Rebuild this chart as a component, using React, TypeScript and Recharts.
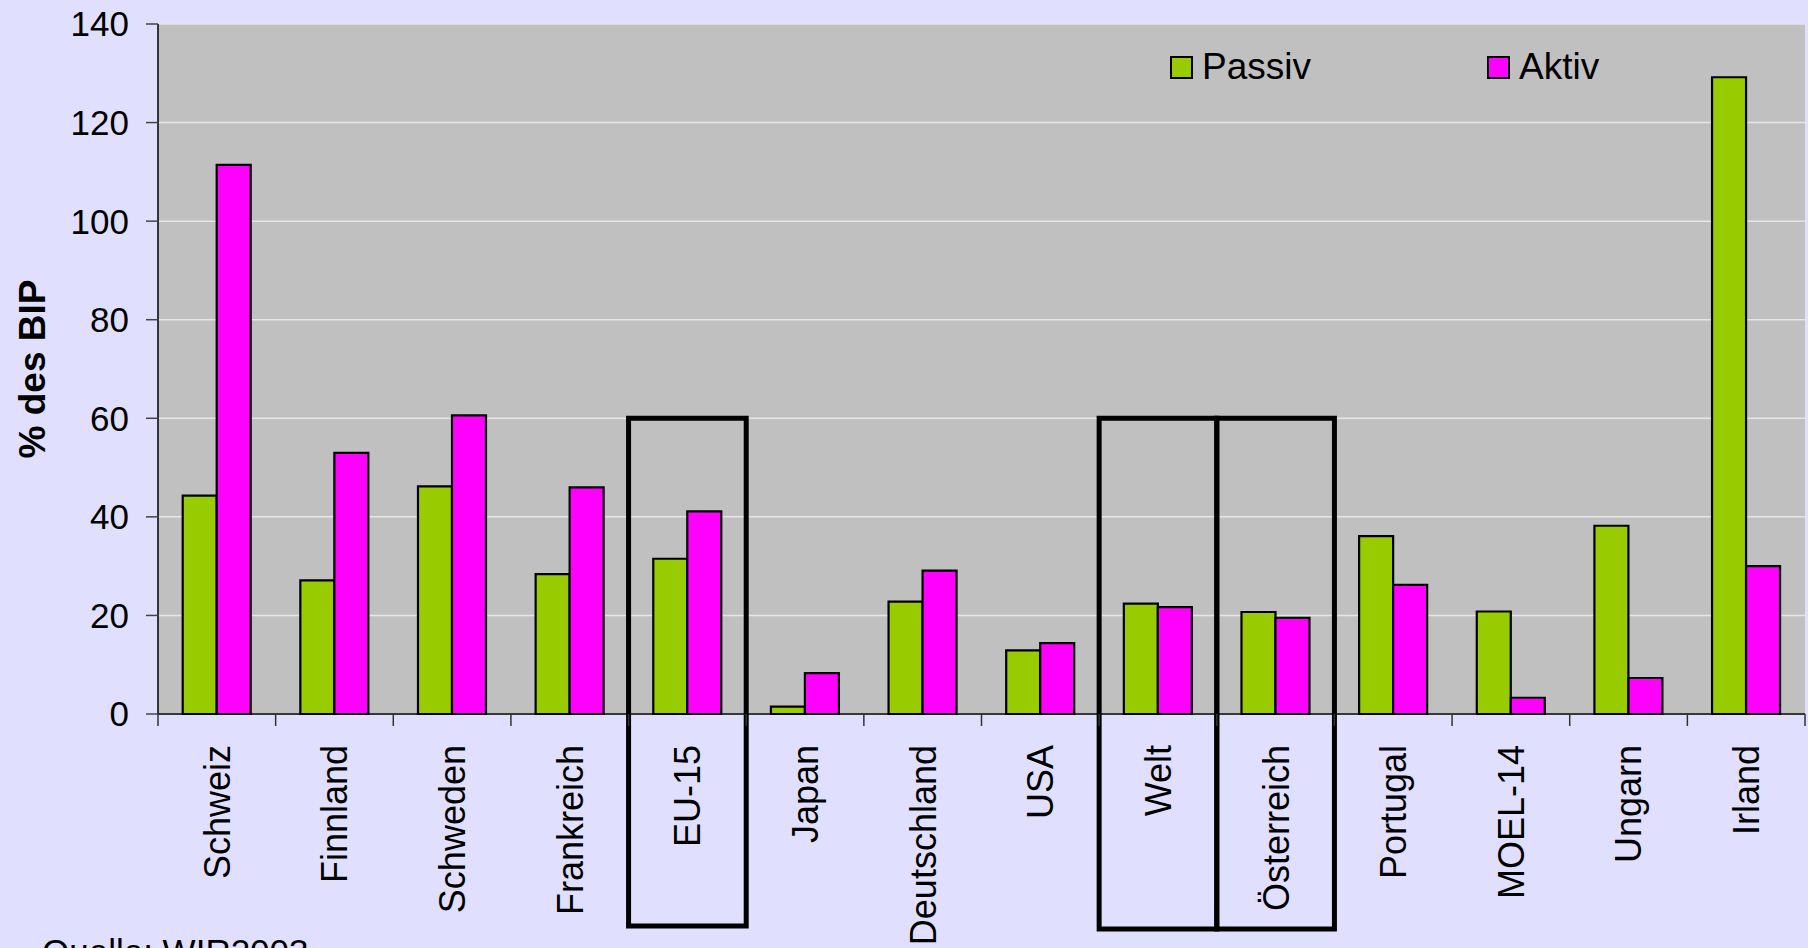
import {
  BarChart,
  Bar,
  XAxis,
  YAxis,
  CartesianGrid,
  Legend,
  ReferenceArea,
} from "recharts";

// Direktinvestitionsbestände in % des BIP (Quelle: WIR 2003)
const countries = [
  "Schweiz",
  "Finnland",
  "Schweden",
  "Frankreich",
  "EU-15",
  "Japan",
  "Deutschland",
  "USA",
  "Welt",
  "Österreich",
  "Portugal",
  "MOEL-14",
  "Ungarn",
  "Irland",
];
const passiv = [44.3, 27.1, 46.2, 28.4, 31.5, 1.5, 22.8, 12.9, 22.4, 20.7, 36.1, 20.8, 38.2, 129.2];
const aktiv = [111.4, 53.0, 60.6, 46.0, 41.1, 8.3, 29.1, 14.4, 21.7, 19.5, 26.2, 3.3, 7.3, 30.0];
const yTicks = [0, 20, 40, 60, 80, 100, 120, 140];
const legendOrder = ["Passiv", "Aktiv"];

// hervorgehobene Länder (schwarzer Rahmen)
const highlighted = ["EU-15", "Welt", "Österreich"];
const boxTop = 60;
const boxBottom = [-43, -43.6, -43.6];

const data = countries.map((name, i) => ({
  name,
  passiv: passiv[i],
  aktiv: aktiv[i],
}));

const WIDTH = 1808;
const HEIGHT = 948;
const MARGIN = { top: 24, right: 3, left: 0, bottom: 0 };
const Y_AXIS_W = 158;
const X_AXIS_H = 234;
const BAND = (WIDTH - MARGIN.left - MARGIN.right - Y_AXIS_W) / countries.length;
const FONT = "'Liberation Sans', Arial, sans-serif";

const CategoryTick = ({ x, y, payload, index }: any) => {
  const axisY = y - 31;
  const left = x - BAND / 2;
  return (
    <g>
      <line x1={left} x2={left} y1={axisY} y2={axisY + 12} stroke="#333" strokeWidth={1.5} />
      {index === countries.length - 1 && (
        <line x1={x + BAND / 2} x2={x + BAND / 2} y1={axisY} y2={axisY + 12} stroke="#333" strokeWidth={1.5} />
      )}
      <text
        x={x}
        y={y}
        dy="0.36em"
        textAnchor="end"
        transform={`rotate(-90, ${x}, ${y})`}
        fontSize={36}
        fontFamily={FONT}
        fill="#000"
      >
        {payload.value}
      </text>
    </g>
  );
};

const renderLegend = (props: any) => {
  const raw = props.payload ?? [];
  const items = legendOrder
    .map((v) => raw.find((it: any) => it.value === v))
    .filter(Boolean);
  return (
    <div style={{ position: "relative", height: 40, fontFamily: FONT }}>
      {items.map((it: any, i: number) => (
        <div
          key={it.value}
          style={{
            position: "absolute",
            left: i * 317,
            top: 0,
            height: 40,
            display: "flex",
            alignItems: "center",
            whiteSpace: "nowrap",
          }}
        >
          <span
            style={{
              display: "inline-block",
              width: 19,
              height: 19,
              background: it.color,
              border: "2px solid #000",
            }}
          />
          <span style={{ marginLeft: 9, fontSize: 37, lineHeight: "40px", color: "#000" }}>
            {it.value}
          </span>
        </div>
      ))}
    </div>
  );
};

const yLabel = (p: any) => {
  const vb = p.viewBox ?? { x: 0, y: MARGIN.top, width: Y_AXIS_W, height: 690 };
  const cx = vb.x + 45;
  const cy = vb.y + vb.height / 2;
  return (
    <text
      x={cx}
      y={cy}
      textAnchor="middle"
      transform={`rotate(-90, ${cx}, ${cy})`}
      fontSize={37}
      fontWeight="bold"
      fontFamily={FONT}
      fill="#000"
    >
      % des BIP
    </text>
  );
};

export default function App() {
  return (
    <div
      style={{
        position: "fixed",
        top: 0,
        left: 0,
        width: WIDTH,
        height: HEIGHT,
        background: "#E0E0FE",
        overflow: "hidden",
        fontFamily: FONT,
      }}
    >
      <BarChart
        width={WIDTH}
        height={HEIGHT}
        data={data}
        margin={MARGIN}
        barCategoryGap="21%"
        barGap={0}
      >
        <CartesianGrid
          vertical={false}
          fill="#C0C0C0"
          fillOpacity={1}
          stroke="#E6E6E6"
          strokeWidth={1.5}
        />
        <XAxis
          dataKey="name"
          interval={0}
          height={X_AXIS_H}
          tickLine={false}
          tickSize={12}
          tickMargin={19}
          axisLine={{ stroke: "#000", strokeWidth: 1.5 }}
          tick={<CategoryTick />}
        />
        <YAxis
          width={Y_AXIS_W}
          domain={[0, 140]}
          ticks={yTicks}
          interval={0}
          tickSize={12}
          tickMargin={17}
          axisLine={{ stroke: "#000", strokeWidth: 1.5 }}
          tickLine={{ stroke: "#444", strokeWidth: 1.5 }}
          tick={{ fontSize: 35, fill: "#000", fontFamily: FONT }}
          label={{ content: yLabel }}
        />
        <Legend
          layout="horizontal"
          verticalAlign="middle"
          align="center"
          content={renderLegend}
          wrapperStyle={{ top: 47, left: 1170, width: 520, height: 40 }}
        />
        <Bar
          dataKey="passiv"
          name="Passiv"
          fill="#99CC00"
          stroke="#000"
          strokeWidth={2.2}
          isAnimationActive={false}
        />
        <Bar
          dataKey="aktiv"
          name="Aktiv"
          fill="#FF00FF"
          stroke="#000"
          strokeWidth={2.2}
          isAnimationActive={false}
        />
        {highlighted.map((c, i) => (
          <ReferenceArea
            key={c}
            x1={c}
            x2={c}
            y1={boxBottom[i]}
            y2={boxTop}
            ifOverflow="visible"
            fill="none"
            fillOpacity={0}
            stroke="#000"
            strokeWidth={5}
            strokeOpacity={1}
          />
        ))}
      </BarChart>
      <div
        style={{
          position: "absolute",
          left: 42,
          top: 934,
          fontSize: 35,
          lineHeight: "35px",
          color: "#000",
          whiteSpace: "nowrap",
        }}
      >
        Quelle: WIR2003
      </div>
    </div>
  );
}
